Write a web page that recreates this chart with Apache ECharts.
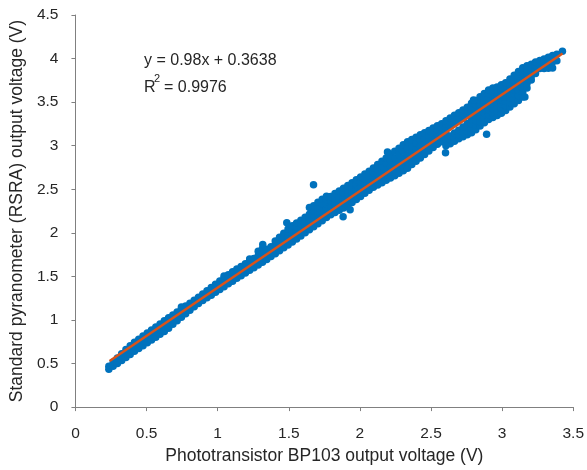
<!DOCTYPE html>
<html>
<head>
<meta charset="utf-8">
<script src="https://cdn.jsdelivr.net/npm/echarts@6/dist/echarts.min.js"></script>
<style>
html,body{margin:0;padding:0;background:#fff;}
#chart{width:587px;height:470px;}
</style>
</head>
<body>
<div id="chart"></div>
<script>
// ---- data ----
const xTicks = [0, 0.5, 1, 1.5, 2, 2.5, 3, 3.5];
const yTicks = [0, 0.5, 1, 1.5, 2, 2.5, 3, 3.5, 4, 4.5];

// low part of the cloud: column x and the y values seen in that column
const lowColX = [0.235,0.265,0.295,0.325,0.355,0.385,0.415,0.445,0.475,0.505,0.535,0.565,0.595,0.625,0.655,0.685,0.715,0.745,0.775,0.805,0.835,0.865,0.895,0.925,0.955,0.985,1.015,1.045,1.075,1.105,1.135,1.165,1.195,1.225,1.255,1.285,1.315,1.345,1.375,1.405,1.435,1.465,1.495];
const lowColY = [
 [0.433,0.470],[0.468,0.515],[0.500,0.535,0.563],[0.536,0.578,0.612],[0.570,0.615,0.660],
 [0.605,0.652,0.705],[0.640,0.690,0.745],[0.672,0.725,0.780],[0.705,0.758,0.815],[0.738,0.790,0.850],
 [0.770,0.825,0.885],[0.802,0.860,0.920],[0.835,0.892,0.955],[0.868,0.925,0.990],[0.905,0.962,1.025],
 [0.950,1.005,1.058],[0.990,1.042,1.092],[1.032,1.080,1.125,1.150],[1.070,1.118,1.160],[1.112,1.152,1.192],
 [1.152,1.190,1.226],[1.188,1.225,1.262],[1.222,1.262,1.298],[1.255,1.295,1.335],[1.285,1.330,1.372],
 [1.318,1.365,1.410],[1.350,1.400,1.448],[1.382,1.432,1.485,1.505],[1.415,1.468,1.520],[1.445,1.500,1.552],
 [1.478,1.532,1.585],[1.508,1.562,1.615],[1.538,1.592,1.645],[1.570,1.625,1.675,1.700],[1.600,1.655,1.705],
 [1.630,1.685,1.738,1.790],[1.662,1.715,1.768,1.820],[1.695,1.752,1.812],[1.728,1.785,1.840],
 [1.760,1.815,1.862,1.905],[1.795,1.848,1.900,1.950],[1.828,1.880,1.935,1.995],[1.860,1.912,1.965,2.015,2.045]
];

// middle part of the cloud
const midColX = [1.525,1.555,1.585,1.615,1.645,1.675,1.705,1.735,1.765,1.795,1.825,1.855,1.885,1.915,1.945,1.975,2.005,2.035,2.065,2.095,2.125,2.155,2.185,2.215,2.245,2.275,2.305,2.335,2.365,2.395,2.425,2.455,2.485,2.515,2.545,2.575];
const midColY = [
 [1.895,1.942,1.990,2.038,2.080],[1.930,1.978,2.025,2.072,2.112],[1.965,2.012,2.058,2.105,2.145],
 [2.000,2.048,2.095,2.140,2.180],[2.035,2.082,2.128,2.172,2.212,2.290],[2.070,2.118,2.165,2.210,2.250,2.310],
 [2.103,2.150,2.198,2.245,2.292,2.350],[2.140,2.188,2.238,2.288,2.335,2.385],[2.177,2.228,2.280,2.332,2.380,2.420],
 [2.208,2.262,2.315,2.368,2.418],[2.233,2.288,2.342,2.398,2.450],[2.258,2.315,2.372,2.428,2.480],
 [2.285,2.342,2.400,2.458,2.512],[2.315,2.372,2.430,2.488,2.542],[2.348,2.405,2.462,2.520,2.575],
 [2.383,2.440,2.497,2.555,2.608],[2.418,2.475,2.532,2.590,2.642],[2.453,2.510,2.565,2.622,2.675],
 [2.488,2.545,2.600,2.655,2.708],[2.524,2.580,2.637,2.692,2.745],[2.550,2.608,2.668,2.728,2.785],
 [2.576,2.638,2.700,2.762,2.822],[2.604,2.668,2.733,2.798,2.860],[2.630,2.695,2.762,2.830,2.898],
 [2.656,2.722,2.790,2.860,2.935],[2.684,2.752,2.822,2.895,2.972],[2.712,2.785,2.860,2.935,3.010],
 [2.740,2.815,2.892,2.970,3.045],[2.783,2.855,2.930,3.005,3.072],[2.822,2.892,2.962,3.032,3.098],
 [2.860,2.928,2.995,3.062,3.125],[2.898,2.962,3.025,3.090,3.150],[2.938,3.000,3.060,3.120,3.175],
 [2.978,3.035,3.092,3.150,3.202],[3.017,3.072,3.125,3.178,3.228],[3.046,3.100,3.152,3.205,3.252]
];

// upper part of the cloud (split into two arms, then merging)
const highColX = [2.605,2.635,2.665,2.695,2.725,2.755,2.785,2.815,2.845,2.875,2.905,2.935,2.965,2.995,3.025,3.055,3.085,3.115,3.145,3.175,3.205,3.235,3.265,3.295,3.325,3.355,3.385];
const highColY = [
 [3.000,3.075,3.140,3.210,3.250,3.286],[3.023,3.068,3.112,3.228,3.275,3.318],[3.051,3.098,3.145,3.258,3.305,3.350],
 [3.079,3.128,3.178,3.290,3.335,3.378],[3.102,3.160,3.215,3.322,3.368,3.410],[3.125,3.170,3.215,3.255,3.355,3.400,3.442],
 [3.149,3.198,3.250,3.298,3.390,3.440,3.488],[3.182,3.235,3.288,3.340,3.422,3.472,3.520],
 [3.225,3.278,3.332,3.385,3.435,3.480,3.522,3.562],[3.264,3.318,3.372,3.428,3.472,3.518,3.560,3.600],
 [3.302,3.358,3.415,3.470,3.512,3.552,3.598,3.640],[3.325,3.375,3.425,3.475,3.525,3.575,3.620,3.662],
 [3.348,3.398,3.450,3.500,3.550,3.600,3.640,3.675],[3.372,3.425,3.478,3.530,3.582,3.632,3.668,3.700],
 [3.405,3.458,3.510,3.562,3.615,3.665,3.722],[3.443,3.495,3.548,3.600,3.652,3.705,3.765],
 [3.481,3.535,3.590,3.645,3.700,3.755,3.808],[3.520,3.575,3.630,3.688,3.745,3.800,3.852],
 [3.558,3.612,3.668,3.725,3.782,3.840,3.895],[3.661,3.715,3.770,3.825,3.875,3.918],
 [3.754,3.800,3.848,3.895,3.935],[3.828,3.872,3.918,3.960],[3.885,3.932,3.978],
 [3.885,3.940,3.995],[3.890,3.952,4.015],[3.892,3.960,4.035],[3.975,4.050]
];

// isolated points
const outlierX = [1.317,1.486,1.674,1.882,1.931,2.194,2.602,2.799,2.891,3.160,3.424];
const outlierY = [1.865,2.117,2.551,2.185,2.265,2.929,2.920,3.524,3.131,3.558,4.085];

// fitted line as drawn (end points)
const fitX = [0.240, 3.425];
const fitY = [0.530, 4.058];

const eqText = 'y = 0.98x + 0.3638';
const r2Value = '0.9976';

// ---- build ----
function pairs(colX, colY) {
  const out = [];
  colX.forEach((x, i) => colY[i].forEach(y => out.push([x, y])));
  return out;
}
const scatterData = []
  .concat(pairs(lowColX, lowColY))
  .concat(pairs(midColX, midColY))
  .concat(pairs(highColX, highColY))
  .concat(outlierX.map((x, i) => [x, outlierY[i]]));
const fitData = fitX.map((x, i) => [x, fitY[i]]);

const FONT = '"Liberation Sans", Arial, Helvetica, sans-serif';
const TXT = '#262626';
const AX = '#808080';

const chart = echarts.init(document.getElementById('chart'), null, {renderer: 'canvas'});
chart.setOption({
  animation: false,
  backgroundColor: '#ffffff',
  grid: {left: 72, right: 11, top: 15, bottom: 62, containLabel: false},
  xAxis: {
    type: 'value', min: xTicks[0], max: xTicks[xTicks.length - 1], interval: 0.5,
    name: 'Phototransistor BP103 output voltage (V)', nameLocation: 'middle', nameGap: 30,
    nameTextStyle: {fontSize: 17.5, color: TXT, fontFamily: FONT},
    axisLine: {show: true, lineStyle: {color: AX, width: 1}},
    axisTick: {show: true, inside: false, length: 4, lineStyle: {color: AX}},
    axisLabel: {fontSize: 15.5, color: TXT, fontFamily: FONT, margin: 19},
    splitLine: {show: false}
  },
  yAxis: {
    type: 'value', min: yTicks[0], max: yTicks[yTicks.length - 1], interval: 0.5,
    name: 'Standard pyranometer (RSRA) output voltage (V)', nameLocation: 'middle', nameGap: 37,
    nameTextStyle: {fontSize: 17.5, color: TXT, fontFamily: FONT},
    axisLine: {show: true, lineStyle: {color: AX, width: 1}},
    axisTick: {show: true, inside: false, length: 4, lineStyle: {color: AX}},
    axisLabel: {fontSize: 15.5, color: TXT, fontFamily: FONT, margin: 17},
    splitLine: {show: false}
  },
  series: [
    {
      type: 'scatter', data: scatterData, symbol: 'circle', symbolSize: 7.5,
      itemStyle: {color: '#0072BD', opacity: 1}, large: false, z: 2
    },
    {
      type: 'line', data: fitData, symbol: 'none', z: 3,
      lineStyle: {color: '#D95319', width: 2.5}
    }
  ],
  graphic: [
    {type: 'text', left: 144, top: 53, style: {text: eqText, fontSize: 16, fill: TXT, fontFamily: FONT}},
    {type: 'text', left: 144, top: 80, style: {text: 'R', fontSize: 16, fill: TXT, fontFamily: FONT}},
    {type: 'text', left: 154, top: 73, style: {text: '2', fontSize: 11, fill: TXT, fontFamily: FONT}},
    {type: 'text', left: 164, top: 80, style: {text: '= ' + r2Value, fontSize: 16, fill: TXT, fontFamily: FONT}}
  ]
});
</script>
</body>
</html>
